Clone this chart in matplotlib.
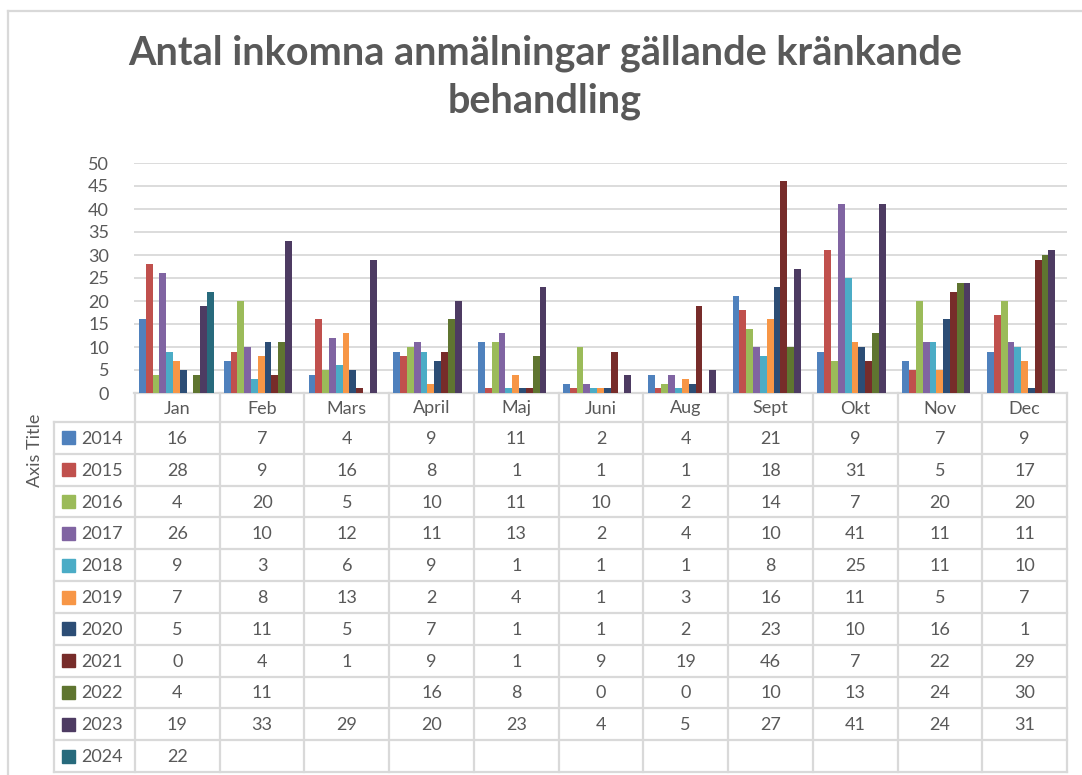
import numpy as np
import matplotlib
matplotlib.use("Agg")
import matplotlib.pyplot as plt
from matplotlib.lines import Line2D
from matplotlib.patches import Rectangle

nan = np.nan
months = ['Jan', 'Feb', 'Mars', 'April', 'Maj', 'Juni', 'Aug', 'Sept', 'Okt', 'Nov', 'Dec']
years = ['2014', '2015', '2016', '2017', '2018', '2019', '2020', '2021', '2022', '2023', '2024']

v2014 = [16, 7, 4, 9, 11, 2, 4, 21, 9, 7, 9]
v2015 = [28, 9, 16, 8, 1, 1, 1, 18, 31, 5, 17]
v2016 = [4, 20, 5, 10, 11, 10, 2, 14, 7, 20, 20]
v2017 = [26, 10, 12, 11, 13, 2, 4, 10, 41, 11, 11]
v2018 = [9, 3, 6, 9, 1, 1, 1, 8, 25, 11, 10]
v2019 = [7, 8, 13, 2, 4, 1, 3, 16, 11, 5, 7]
v2020 = [5, 11, 5, 7, 1, 1, 2, 23, 10, 16, 1]
v2021 = [0, 4, 1, 9, 1, 9, 19, 46, 7, 22, 29]
v2022 = [4, 11, nan, 16, 8, 0, 0, 10, 13, 24, 30]
v2023 = [19, 33, 29, 20, 23, 4, 5, 27, 41, 24, 31]
v2024 = [22, nan, nan, nan, nan, nan, nan, nan, nan, nan, nan]
series = [v2014, v2015, v2016, v2017, v2018, v2019, v2020, v2021, v2022, v2023, v2024]

colors = ['#4F81BD', '#C0504D', '#9BBB59', '#8064A2', '#4BACC6', '#F79646',
          '#2C4D75', '#772C2A', '#5F7530', '#4D3B62', '#276A7C']

W, H = 1082, 775
txt = '#595959'
grid = '#d9d9d9'
plt.rcParams['font.family'] = ['Lato', 'DejaVu Sans']

fig = plt.figure(figsize=(W / 100, H / 100), dpi=100)


def fx(x):
    return x / W


def fy(y):
    return 1 - y / H


def hline(x0, x1, y, lw=1.6):
    fig.add_artist(Line2D([fx(x0), fx(x1)], [fy(y), fy(y)], color=grid, lw=lw))


def vline(x, y0, y1, lw=1.6):
    fig.add_artist(Line2D([fx(x), fx(x)], [fy(y0), fy(y1)], color=grid, lw=lw))


# outer chart border
hline(8, W, 11)
vline(8, 11, H)

# plot area
left, right, top, base = 134, 1067, 163, 393
ax = fig.add_axes([fx(left), fy(base), fx(right) - fx(left), fy(top) - fy(base)])
n = len(series)
group = 0.885
bw = group / n
x = np.arange(len(months))
for i, vals in enumerate(series):
    ax.bar(x - group / 2 + bw * (i + 0.5), vals, width=bw, color=colors[i], zorder=3)

ax.set_xlim(-0.5, len(months) - 0.5)
ax.set_ylim(0, 50)
ax.set_yticks(range(0, 51, 5))
ax.tick_params(axis='y', length=0, pad=18, labelsize=13, labelcolor=txt)
ax.set_xticks([])
ax.grid(axis='y', color=grid, lw=1.3, zorder=0)
for s in ['left', 'right', 'top']:
    ax.spines[s].set_visible(False)
ax.spines['bottom'].set_color(grid)
ax.spines['bottom'].set_linewidth(1.6)
ax.patch.set_alpha(0)

# data table
tbl_left, col0, tbl_right = 54, 135, 1067
head_bot, tbl_bot = 422, 772
colw = (tbl_right - col0) / len(months)
rowh = (tbl_bot - head_bot) / len(years)

for j in range(len(months) + 1):
    vline(col0 + j * colw, base, tbl_bot)
vline(tbl_left, head_bot, tbl_bot)
for r in range(len(years) + 1):
    hline(tbl_left, tbl_right, head_bot + r * rowh)

for j, m in enumerate(months):
    fig.text(fx(col0 + (j + 0.5) * colw), fy((base + head_bot) / 2 + 1), m,
             ha='center', va='center', fontsize=13, color=txt)

for r, (yr, vals) in enumerate(zip(years, series)):
    cy = head_bot + (r + 0.5) * rowh
    fig.add_artist(Rectangle((fx(62), fy(cy + 6.5)), fx(13), 13 / H,
                             color=colors[r], transform=fig.transFigure))
    fig.text(fx(81), fy(cy + 1), yr, ha='left', va='center', fontsize=13, color=txt)
    for j, v in enumerate(vals):
        if not np.isnan(v):
            fig.text(fx(col0 + (j + 0.5) * colw), fy(cy + 1), f'{int(v)}',
                     ha='center', va='center', fontsize=13, color=txt)

fig.text(fx(35), fy(450), 'Axis Title', rotation=90, ha='center', va='center',
         fontsize=13, color=txt)

fig.text(fx(545), fy(77), 'Antal inkomna anmälningar gällande kränkande\nbehandling',
         ha='center', va='center', fontsize=28.5, fontweight='bold', color=txt,
         linespacing=1.35)

fig.savefig('out.png', dpi=100)
